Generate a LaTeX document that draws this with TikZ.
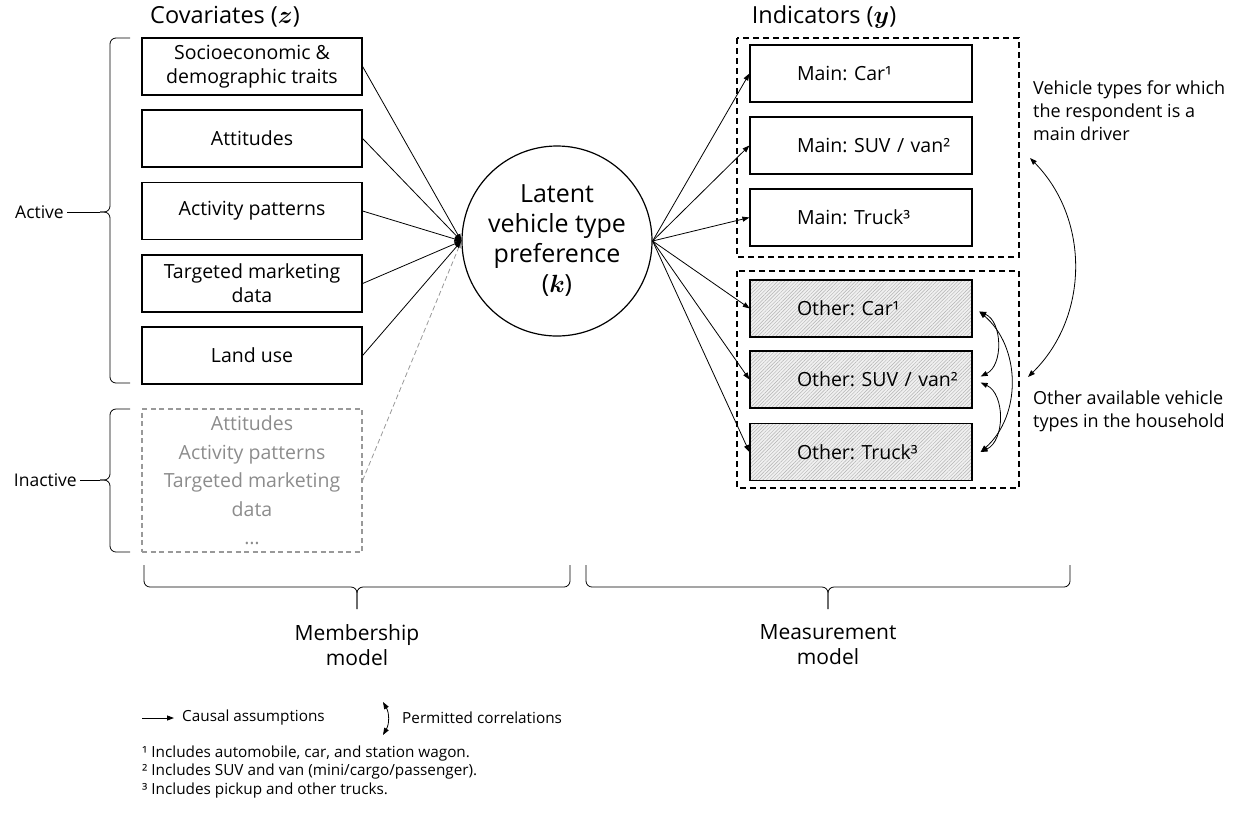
\documentclass[tikz,border=0pt]{standalone}
\usepackage{fontspec}
\setmainfont{Open Sans}
\usepackage{bm}
\usetikzlibrary{arrows.meta,patterns.meta}
\frenchspacing

\begin{document}
\begin{tikzpicture}[x=1pt,y=-1pt,>={Triangle[length=7pt,width=5pt]},
  covbox/.style={draw,line width=1.2pt,minimum width=220pt,minimum height=57pt,align=center,font=\fontsize{19.5}{24}\selectfont},
  indbox/.style={draw,line width=1.2pt,minimum width=222pt,minimum height=57pt,text width=128pt,align=left,font=\fontsize{19.5}{24}\selectfont},
  othbox/.style={indbox,preaction={fill=black!6},pattern={Lines[angle=45,distance=2.5pt,line width=.45pt]},pattern color=black!30},
  grp/.style={line width=1.2pt,dash pattern=on 6pt off 4pt},
  note/.style={anchor=west,align=left,inner sep=3pt,font=\fontsize{18}{23}\selectfont},
  arr/.style={->,line width=.8pt}]
  \useasboundingbox (0,0) rectangle (1236,815);

  \node[font=\fontsize{23.5}{28}\selectfont] (covtitle) at (225,17) {Covariates ($\bm{z}$)};
  \node[font=\fontsize{23.5}{28}\selectfont] (indtitle) at (824,17) {Indicators ($\bm{y}$)};

  \node[covbox] (cov1) at (252,66.5) {Socioeconomic \&\\demographic traits};
  \node[covbox] (cov2) at (252,138.5) {Attitudes};
  \node[covbox] (cov3) at (252,211) {Activity patterns};
  \node[covbox] (cov4) at (252,283.5) {Targeted marketing\\data};
  \node[covbox] (cov5) at (252,355.5) {Land use};
  \node[draw=black!40,dash pattern=on 5pt off 3.5pt,line width=1.2pt,minimum width=220pt,minimum height=143pt,
    text=black!45,align=center,font=\fontsize{19.5}{28.5}\selectfont] (ghost) at (252,480.5)
    {Attitudes\\Activity patterns\\Targeted marketing\\data\\…};

  \node[circle,draw,line width=1.2pt,minimum size=190pt,align=center,font=\fontsize{25}{30}\selectfont]
    (pref) at (557,241) {Latent\\vehicle type\\preference\\($\bm{k}$)};

  \draw[grp] (737,38) rectangle (1019,257);
  \draw[grp] (737,271) rectangle (1019,488);
  \node[indbox] (mcar) at (861,73.5) {\mbox{Main: Car¹}};
  \node[indbox] (msuv) at (861,145.5) {\mbox{Main: SUV / van²}};
  \node[indbox] (mtruck) at (861,217.5) {\mbox{Main: Truck³}};
  \node[othbox] (ocar) at (861,308.5) {\mbox{Other: Car¹}};
  \node[othbox] (osuv) at (861,379.5) {\mbox{Other: SUV / van²}};
  \node[othbox] (otruck) at (861,452) {\mbox{Other: Truck³}};

  \draw[->,line width=.8pt,black!40,dash pattern=on 5pt off 3pt] (ghost.east) -- (pref.west);
  \foreach \i in {1,...,5}
    \draw[arr] (cov\i.east) -- (pref.west);
  \foreach \n in {mcar,msuv,mtruck,ocar,osuv,otruck}
    \draw[arr] (pref.east) -- (\n.west);

  \draw[<->,line width=.8pt] ([xshift=7pt,yshift=-3pt]ocar.east) to[bend left=65] ([xshift=8pt,yshift=3pt]osuv.east);
  \draw[<->,line width=.8pt] ([xshift=8pt,yshift=-3pt]osuv.east) to[bend left=65] ([xshift=8pt]otruck.east);
  \draw[<->,line width=.8pt] ([xshift=7pt,yshift=-3pt]ocar.east) to[bend left=49] ([xshift=8pt]otruck.east);

  \node[note] (mainnote) at (1030,111) {Vehicle types for which\\the respondent is a\\main driver};
  \node[note] (othnote) at (1030,411.5) {Other available vehicle\\types in the household};
  \coordinate (mtop) at (1030,158);
  \coordinate (mbot) at (1028,377);
  \draw[<->,line width=.8pt] (mtop) to[bend left=45] (mbot);

  \foreach \t/\m/\b in {38/212/383,409/480/552} {
    \draw[rounded corners=6pt,line width=.8pt] (130,\t) -| (110,\m) -- (100,\m);
    \draw[rounded corners=6pt,line width=.8pt] (130,\b) -| (110,\m) -- (100,\m);
  }
  \coordinate (acttip) at (100,212);
  \coordinate (inacttip) at (100,480);
  \node[anchor=east,inner sep=3pt,font=\fontsize{17.5}{21}\selectfont] (act) at (67,212) {Active};
  \node[anchor=east,inner sep=3pt,font=\fontsize{17.5}{21}\selectfont] (inact) at (80,480) {Inactive};
  \draw[line width=.8pt] (act) -- (acttip);
  \draw[line width=.8pt] (inact) -- (inacttip);

  \foreach \a/\c/\b in {144/357/570,586/828/1070} {
    \draw[rounded corners=6pt,line width=.8pt] (\a,565) |- (\c,587) -- (\c,609);
    \draw[rounded corners=6pt,line width=.8pt] (\b,565) |- (\c,587) -- (\c,609);
  }
  \node[align=center,font=\fontsize{21}{25}\selectfont] (memb) at (357,645) {Membership\\model};
  \node[align=center,font=\fontsize{21}{25}\selectfont] (meas) at (828,645) {Measurement\\model};

  \coordinate (lgstart) at (142,718);
  \node[anchor=west,inner xsep=8pt,font=\fontsize{15.3}{18}\selectfont] (causal) at (174,718) {Causal assumptions};
  \draw[arr] (lgstart) -- (causal.west);
  \coordinate (lgtop) at (383,702);
  \coordinate (lgbot) at (383,735);
  \draw[<->,line width=.8pt] (lgtop) to[bend left=30] (lgbot);
  \node[anchor=west,inner xsep=0pt,font=\fontsize{15.3}{18}\selectfont] (permit) at (402,718) {Permitted correlations};

  \node[anchor=west,inner sep=0pt,align=left,font=\fontsize{15.3}{18.5}\selectfont] (notes) at (142,772)
    {¹ Includes automobile, car, and station wagon.\\² Includes SUV and van (mini/cargo/passenger).\\³ Includes pickup and other trucks.};
\end{tikzpicture}
\end{document}
